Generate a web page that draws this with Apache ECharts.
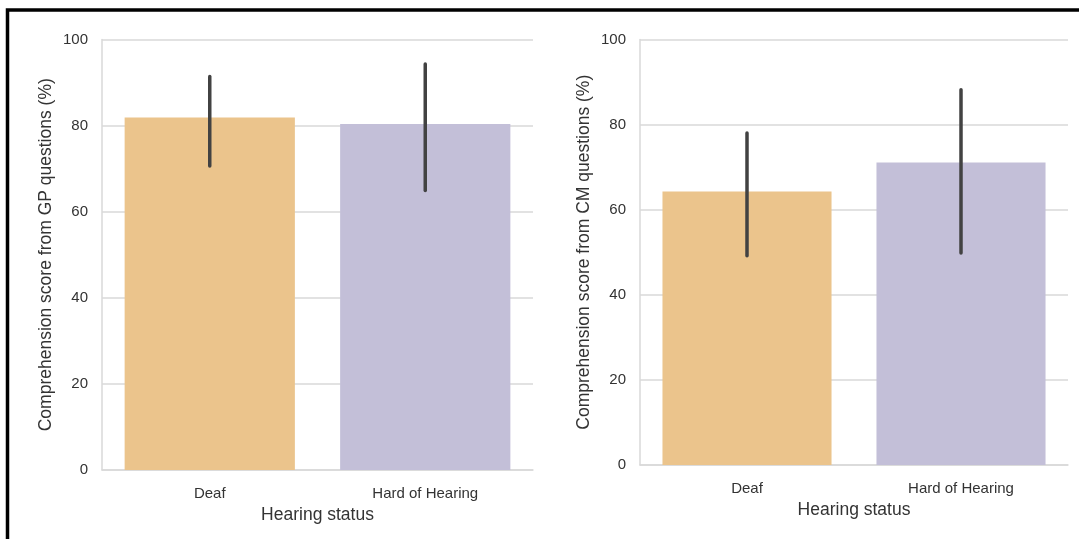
<!DOCTYPE html>
<html>
<head>
<meta charset="utf-8">
<title>Comprehension scores by hearing status</title>
<script src="https://cdn.jsdelivr.net/npm/echarts@6/dist/echarts.min.js"></script>
<style>
  html, body { margin: 0; padding: 0; background: #ffffff; }
  #chart { width: 1079px; height: 539px; }
</style>
</head>
<body>
<div id="chart"></div>
<script>
// Groups on the x axis
const categories = ['Deaf', 'Hard of Hearing'];
const barColors = ['#ebc48c', '#c3bfd8'];

// GP questions: mean score and confidence interval (%)
const gpMean = [81.9, 80.4];
const gpLow = [70.6, 64.9];
const gpHigh = [91.4, 94.3];

// CM questions: mean score and confidence interval (%)
const cmMean = [64.3, 71.1];
const cmLow = [49.2, 49.8];
const cmHigh = [78.0, 88.2];

// Y axis scale
const yMin = 0;
const yMax = 100;
const yStep = 20;

const FONT = "'Liberation Sans', Arial, sans-serif";
const TEXT = '#333333';
const GRID_LINE = '#d9d9d9';

function makeXAxis(gridIndex) {
  return {
    type: 'category',
    gridIndex: gridIndex,
    data: categories,
    name: 'Hearing status',
    nameLocation: 'middle',
    nameGap: 34,
    nameTextStyle: { fontFamily: FONT, fontSize: 17.5, color: TEXT },
    axisLine: { show: true, lineStyle: { color: GRID_LINE, width: 1.5 } },
    axisTick: { show: false },
    axisLabel: { fontFamily: FONT, fontSize: 15, color: TEXT, margin: 16 },
    splitLine: { show: false }
  };
}

function makeYAxis(gridIndex, title) {
  return {
    type: 'value',
    gridIndex: gridIndex,
    min: yMin,
    max: yMax,
    interval: yStep,
    name: title,
    nameLocation: 'middle',
    nameGap: 47,
    nameTextStyle: { fontFamily: FONT, fontSize: 17.5, color: TEXT },
    axisLine: { show: true, lineStyle: { color: GRID_LINE, width: 1.5 } },
    axisTick: { show: false },
    axisLabel: { fontFamily: FONT, fontSize: 15, color: TEXT, margin: 14 },
    splitLine: { show: true, lineStyle: { color: GRID_LINE, width: 1.5 } }
  };
}

function barSeries(axisIndex, values) {
  return {
    type: 'bar',
    xAxisIndex: axisIndex,
    yAxisIndex: axisIndex,
    barWidth: '79%',
    data: values.map((v, i) => ({ value: v, itemStyle: { color: barColors[i] } })),
    z: 2
  };
}

// Vertical confidence-interval line drawn through the axis scales
function errorSeries(axisIndex, low, high) {
  return {
    type: 'custom',
    xAxisIndex: axisIndex,
    yAxisIndex: axisIndex,
    data: low.map((l, i) => [i, l, high[i]]),
    encode: { x: 0, y: [1, 2] },
    z: 5,
    renderItem: function (params, api) {
      const p1 = api.coord([api.value(0), api.value(1)]);
      const p2 = api.coord([api.value(0), api.value(2)]);
      return {
        type: 'line',
        shape: { x1: p1[0], y1: p1[1], x2: p2[0], y2: p2[1] },
        style: { stroke: '#424242', lineWidth: 3.5, lineCap: 'round' }
      };
    }
  };
}

const chart = echarts.init(document.getElementById('chart'), null, { renderer: 'canvas' });

chart.setOption({
  backgroundColor: '#ffffff',
  animation: false,
  grid: [
    { left: 102, right: 546, top: 39.5, bottom: 69 },
    { left: 640, right: 11, top: 39.5, bottom: 74 }
  ],
  xAxis: [makeXAxis(0), makeXAxis(1)],
  yAxis: [
    makeYAxis(0, 'Comprehension score from GP questions (%)'),
    makeYAxis(1, 'Comprehension score from CM questions (%)')
  ],
  series: [
    barSeries(0, gpMean),
    errorSeries(0, gpLow, gpHigh),
    barSeries(1, cmMean),
    errorSeries(1, cmLow, cmHigh)
  ],
  graphic: [
    {
      // figure frame (top and left edges)
      type: 'polyline',
      shape: { points: [[7.5, 545], [7.5, 10], [1085, 10]] },
      style: { stroke: '#000000', lineWidth: 3.5, fill: null },
      z: 10
    }
  ]
});
</script>
</body>
</html>
